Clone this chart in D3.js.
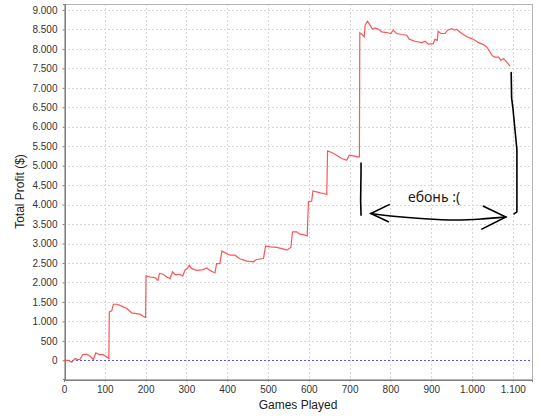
<!DOCTYPE html>
<html>
<head>
<meta charset="utf-8">
<script src="https://cdn.jsdelivr.net/npm/d3@7/dist/d3.min.js"></script>
<style>
	html, body { margin: 0; padding: 0; background: #fff; }
	svg { display: block; font-family: 'Liberation Sans', Arial, sans-serif; }
	.grid line { stroke: #d8d8d8; stroke-dasharray: 2 2; shape-rendering: crispEdges; }
	.tick text { fill: #333; font-size: 10px; }
</style>
</head>
<body>
<div id="chart"></div>
<script>
// games played / running total profit
const games = [
	0, 11, 19, 27, 33, 39, 46, 56, 64, 72, 78, 87, 96, 105, 110,
	111, 117, 121, 129, 137, 154, 166, 186, 199, 200,
	201, 211, 223, 230, 234, 243, 252, 260, 266, 272, 284, 291, 297, 302, 307,
	313, 325, 341, 350, 358, 370, 374, 382, 387, 395, 407, 419, 431, 448, 464,
	472, 489, 494, 505, 521, 534, 546, 556, 560, 570, 578, 587, 596,
	599, 607, 610, 619, 628, 636, 644, 646, 656, 668, 681, 693, 699, 709, 719, 724,
	725, 731, 736, 738, 744, 750, 756, 762, 771, 779, 791, 801, 807, 815, 828,
	840, 846, 860, 877, 885, 893, 905, 909, 915, 917, 924, 934, 940, 950, 957,
	962, 975, 987, 999, 1007, 1016, 1028, 1036, 1044, 1050, 1056, 1065, 1071,
	1077, 1085, 1093
];
const profit = [
	0, 0, -50, 45, 25, 20, 150, 155, 105, 20, 190, 145, 145, 85, 45,
	1245, 1270, 1440, 1440, 1410, 1330, 1220, 1185, 1100, 1100,
	2170, 2140, 2125, 2055, 2230, 2210, 2140, 2100, 2275, 2200, 2210, 2165, 2330, 2355, 2440,
	2355, 2310, 2330, 2370, 2310, 2245, 2485, 2485, 2810, 2760, 2700, 2700, 2610, 2550, 2530,
	2590, 2615, 2940, 2915, 2900, 2870, 2830, 2900, 3300, 3300, 3240, 3230, 3195,
	4070, 4085, 4350, 4325, 4300, 4285, 4260, 5380, 5340, 5270, 5185, 5140, 5270, 5250, 5225, 5225,
	8410, 8370, 8310, 8610, 8710, 8610, 8505, 8540, 8505, 8435, 8420, 8395, 8480, 8395, 8370,
	8350, 8250, 8195, 8160, 8195, 8120, 8135, 8245, 8220, 8450, 8395, 8395, 8480, 8520, 8480,
	8505, 8395, 8310, 8265, 8220, 8160, 8110, 8050, 7920, 7820, 7790, 7790, 7705,
	7750, 7665, 7560
];

const xTicks = [0, 100, 200, 300, 400, 500, 600, 700, 800, 900, 1000, 1100];
const yTicks = [0, 500, 1000, 1500, 2000, 2500, 3000, 3500, 4000, 4500, 5000,
	5500, 6000, 6500, 7000, 7500, 8000, 8500, 9000];

// hand drawn scribble, in data units [game, profit]
const markLeft = [[728, 5065], [728, 4850], [727, 4100], [728, 3730]];
const markRight = [[1096, 7390], [1097, 6745], [1100, 6500], [1110, 5410], [1110, 3815], [1103, 3760]];
const arrowShaft = [[752, 3770], [801, 3700], [883, 3630], [964, 3590], [1022, 3630], [1083, 3680]];
const arrowHeadL = [[797, 4000], [752, 3770], [795, 3560]];
const arrowHeadR = [[1028, 3960], [1083, 3680], [1024, 3370]];
const noteText = 'ебонь :(';
const notePos = [843, 4070];

const width = 540;
const height = 420;
const plot = { left: 64, right: 532, top: 4, bottom: 379 };

const fmt = d3.formatLocale({ decimal: ',', thousands: '.', grouping: [3], currency: ['', '$'] }).format(',d');

const x = d3.scaleLinear().domain([0, 1147]).range([plot.left, plot.right]);
const y = d3.scaleLinear().domain([-480, 9153]).range([plot.bottom, plot.top]);

const svg = d3.select('#chart').append('svg')
	.attr('width', width)
	.attr('height', height);

// grid
const grid = svg.append('g').attr('class', 'grid');
grid.selectAll('line.v')
	.data(xTicks)
	.join('line')
	.attr('class', 'v')
	.attr('x1', d => Math.round(x(d)) + 0.5)
	.attr('x2', d => Math.round(x(d)) + 0.5)
	.attr('y1', plot.top)
	.attr('y2', plot.bottom);
grid.selectAll('line.h')
	.data(yTicks)
	.join('line')
	.attr('class', 'h')
	.attr('y1', d => Math.round(y(d)) + 0.5)
	.attr('y2', d => Math.round(y(d)) + 0.5)
	.attr('x1', plot.left)
	.attr('x2', plot.right);

// plot outline
svg.append('rect')
	.attr('x', plot.left + 0.5)
	.attr('y', plot.top + 0.5)
	.attr('width', plot.right - plot.left)
	.attr('height', plot.bottom - plot.top)
	.attr('fill', 'none')
	.attr('stroke', '#b4b4b4')
	.attr('shape-rendering', 'crispEdges');

// zero line
svg.append('line')
	.attr('x1', plot.left)
	.attr('x2', plot.right)
	.attr('y1', Math.round(y(0)) + 0.5)
	.attr('y2', Math.round(y(0)) + 0.5)
	.attr('stroke', '#5555ff')
	.attr('stroke-dasharray', '2 2')
	.attr('shape-rendering', 'crispEdges');

// profit line
const line = d3.line()
	.x(d => x(d[0]))
	.y(d => y(d[1]));

svg.append('path')
	.datum(d3.zip(games, profit))
	.attr('d', line)
	.attr('fill', 'none')
	.attr('stroke', '#ff5555')
	.attr('stroke-width', 1.2)
	.attr('stroke-linejoin', 'miter');

// axes
const xAxis = svg.append('g')
	.attr('transform', `translate(0,${plot.bottom + 0.5})`)
	.call(d3.axisBottom(x).tickValues(xTicks).tickFormat(fmt).tickSize(2).tickPadding(4));
const yAxis = svg.append('g')
	.attr('transform', `translate(${plot.left + 0.5},0)`)
	.call(d3.axisLeft(y).tickValues(yTicks).tickFormat(fmt).tickSize(2).tickPadding(5));

[xAxis, yAxis].forEach(a => {
	a.select('.domain').attr('stroke', '#808080').attr('shape-rendering', 'crispEdges');
	a.selectAll('.tick line').attr('stroke', '#808080');
	a.attr('font-family', null).attr('font-size', null);
});

svg.append('text')
	.attr('x', (plot.left + plot.right) / 2)
	.attr('y', 409)
	.attr('text-anchor', 'middle')
	.attr('font-size', 12)
	.attr('fill', '#222')
	.text('Games Played');

svg.append('text')
	.attr('transform', `translate(24,${(plot.top + plot.bottom) / 2}) rotate(-90)`)
	.attr('text-anchor', 'middle')
	.attr('font-size', 12)
	.attr('fill', '#222')
	.text('Total Profit ($)');

// scribble on top
const scribble = svg.append('g')
	.attr('fill', 'none')
	.attr('stroke', '#000')
	.attr('stroke-width', 1.6)
	.attr('stroke-linecap', 'round');

[markLeft, markRight, arrowHeadL, arrowHeadR].forEach(pts => {
	scribble.append('path').attr('d', line(pts));
});
scribble.append('path')
	.attr('d', line.curve(d3.curveBasis)(arrowShaft));

svg.append('text')
	.attr('x', x(notePos[0]))
	.attr('y', y(notePos[1]))
	.attr('font-family', "'Noto Sans', 'DejaVu Sans', sans-serif")
	.attr('font-size', 14)
	.attr('fill', '#1a1a1a')
	.text(noteText);
</script>
</body>
</html>
